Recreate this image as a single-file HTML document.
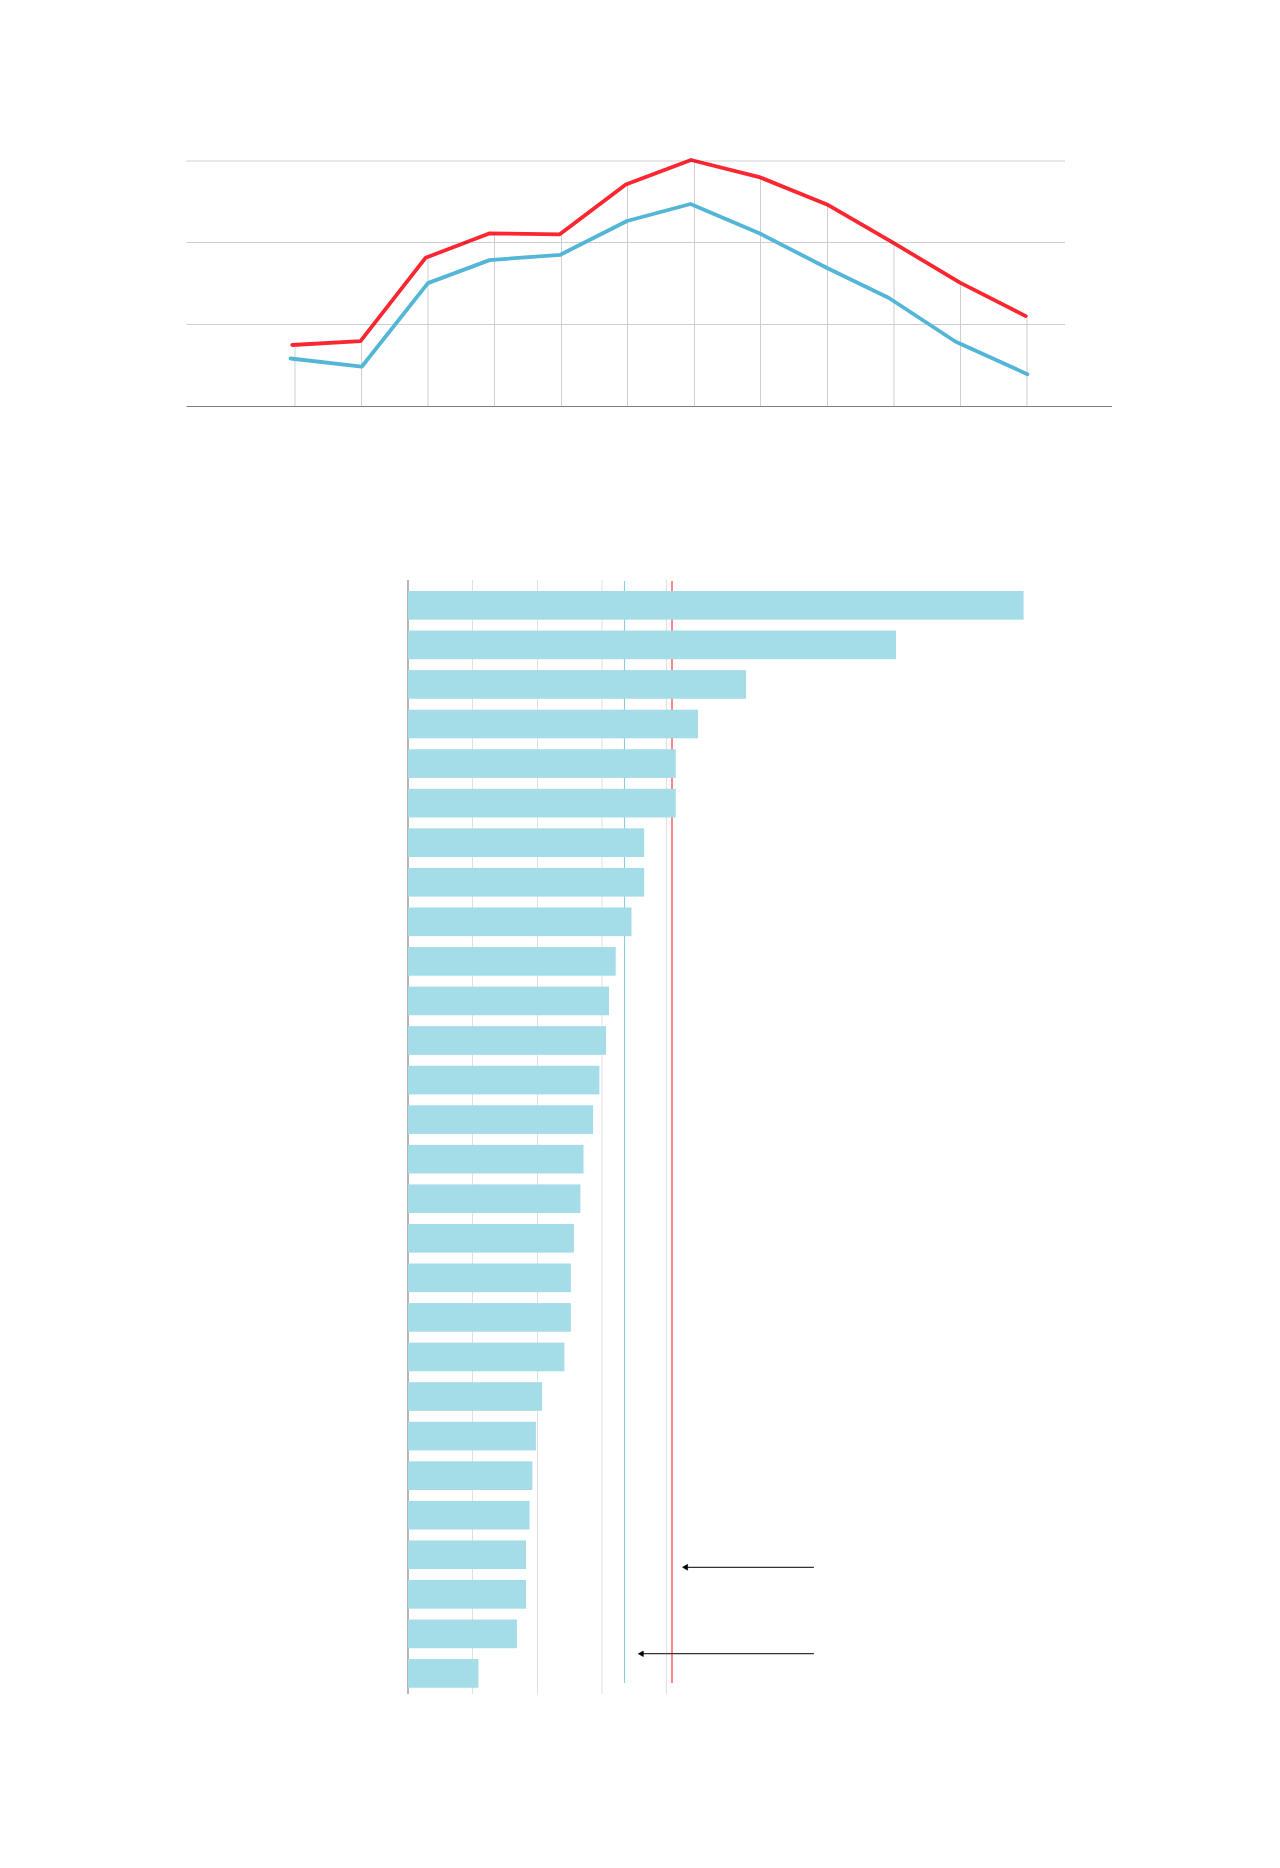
<!DOCTYPE html><html><head><meta charset="utf-8"><style>html,body{margin:0;padding:0;background:#fff;}body{width:1280px;height:1868px;overflow:hidden;font-family:"Liberation Sans",sans-serif;}svg{position:absolute;left:0;top:0;display:block;}</style></head><body>
<svg width="1280" height="1868" viewBox="0 0 1280 1868">
<polyline points="292.2,345 360.5,341.2 425.7,257.7 489.2,233.4 559.8,234.3 625.8,184.5 691,160 760.3,177.4 827,204.4 893,242.6 960,282.6 1025.8,316.1" fill="none" stroke="#fb2630" stroke-width="3.8" stroke-linejoin="round" stroke-linecap="round"/>
<g style="mix-blend-mode:darken">
<line x1="295.00" y1="347.0" x2="295.00" y2="406" stroke="#cfcfcf" stroke-width="1"/>
<line x1="361.50" y1="340.2" x2="361.50" y2="406" stroke="#cfcfcf" stroke-width="1"/>
<line x1="428.00" y1="259.0" x2="428.00" y2="406" stroke="#cfcfcf" stroke-width="1"/>
<line x1="494.50" y1="233.8" x2="494.50" y2="406" stroke="#cfcfcf" stroke-width="1"/>
<line x1="561.50" y1="233.3" x2="561.50" y2="406" stroke="#cfcfcf" stroke-width="1"/>
<line x1="627.50" y1="184.2" x2="627.50" y2="406" stroke="#cfcfcf" stroke-width="1"/>
<line x1="694.50" y1="161.2" x2="694.50" y2="406" stroke="#cfcfcf" stroke-width="1"/>
<line x1="760.50" y1="177.8" x2="760.50" y2="406" stroke="#cfcfcf" stroke-width="1"/>
<line x1="827.50" y1="205.0" x2="827.50" y2="406" stroke="#cfcfcf" stroke-width="1"/>
<line x1="894.00" y1="245.4" x2="894.00" y2="406" stroke="#cfcfcf" stroke-width="1"/>
<line x1="960.50" y1="283.2" x2="960.50" y2="406" stroke="#cfcfcf" stroke-width="1"/>
<line x1="1027.00" y1="318.3" x2="1027.00" y2="406" stroke="#cfcfcf" stroke-width="1"/>
<line x1="186.5" y1="161" x2="1065" y2="161" stroke="#cfcfcf" stroke-width="1"/>
<line x1="186.5" y1="242.5" x2="1065" y2="242.5" stroke="#cfcfcf" stroke-width="1"/>
<line x1="186.5" y1="324.5" x2="1065" y2="324.5" stroke="#cfcfcf" stroke-width="1"/>
</g>
<polyline points="290.6,358.5 361.7,366.7 427.9,283.1 489.5,260.1 560.3,254.8 627,221 690.5,204 760.5,233.75 826.6,267.8 889,298 955.3,341.5 1027.4,374.2" fill="none" stroke="#54b6d7" stroke-width="3.8" stroke-linejoin="round" stroke-linecap="round"/>
<line x1="186.5" y1="406.5" x2="1112" y2="406.5" stroke="#7f7f7f" stroke-width="1"/>
<line x1="472.5" y1="580" x2="472.5" y2="1694" stroke="#e0e0e0" stroke-width="1"/>
<line x1="537.5" y1="580" x2="537.5" y2="1694" stroke="#e0e0e0" stroke-width="1"/>
<line x1="602" y1="580" x2="602" y2="1694" stroke="#e0e0e0" stroke-width="1"/>
<line x1="666.5" y1="580" x2="666.5" y2="1694" stroke="#e0e0e0" stroke-width="1"/>
<line x1="408" y1="580" x2="408" y2="1694" stroke="#b7b7b7" stroke-width="2"/>
<line x1="624.5" y1="581" x2="624.5" y2="1683" stroke="#88cbe2" stroke-width="1.1"/>
<line x1="672" y1="581" x2="672" y2="1683" stroke="#ff878b" stroke-width="2"/>
<rect x="408" y="591.00" width="615.6" height="28.65" fill="#a4dce7"/>
<rect x="408" y="630.56" width="488.0" height="28.65" fill="#a4dce7"/>
<rect x="408" y="670.12" width="338.1" height="28.65" fill="#a4dce7"/>
<rect x="408" y="709.68" width="290.0" height="28.65" fill="#a4dce7"/>
<rect x="408" y="749.24" width="267.7" height="28.65" fill="#a4dce7"/>
<rect x="408" y="788.80" width="267.7" height="28.65" fill="#a4dce7"/>
<rect x="408" y="828.36" width="236.2" height="28.65" fill="#a4dce7"/>
<rect x="408" y="867.92" width="236.2" height="28.65" fill="#a4dce7"/>
<rect x="408" y="907.48" width="223.5" height="28.65" fill="#a4dce7"/>
<rect x="408" y="947.04" width="207.7" height="28.65" fill="#a4dce7"/>
<rect x="408" y="986.60" width="201.0" height="28.65" fill="#a4dce7"/>
<rect x="408" y="1026.16" width="198.0" height="28.65" fill="#a4dce7"/>
<rect x="408" y="1065.72" width="191.4" height="28.65" fill="#a4dce7"/>
<rect x="408" y="1105.28" width="185.1" height="28.65" fill="#a4dce7"/>
<rect x="408" y="1144.84" width="175.5" height="28.65" fill="#a4dce7"/>
<rect x="408" y="1184.40" width="172.4" height="28.65" fill="#a4dce7"/>
<rect x="408" y="1223.96" width="165.9" height="28.65" fill="#a4dce7"/>
<rect x="408" y="1263.52" width="162.9" height="28.65" fill="#a4dce7"/>
<rect x="408" y="1303.08" width="162.9" height="28.65" fill="#a4dce7"/>
<rect x="408" y="1342.64" width="156.4" height="28.65" fill="#a4dce7"/>
<rect x="408" y="1382.20" width="134.1" height="28.65" fill="#a4dce7"/>
<rect x="408" y="1421.76" width="127.9" height="28.65" fill="#a4dce7"/>
<rect x="408" y="1461.32" width="124.4" height="28.65" fill="#a4dce7"/>
<rect x="408" y="1500.88" width="121.6" height="28.65" fill="#a4dce7"/>
<rect x="408" y="1540.44" width="118.0" height="28.65" fill="#a4dce7"/>
<rect x="408" y="1580.00" width="118.0" height="28.65" fill="#a4dce7"/>
<rect x="408" y="1619.56" width="108.9" height="28.65" fill="#a4dce7"/>
<rect x="408" y="1659.12" width="70.4" height="28.65" fill="#a4dce7"/>
<line x1="687.1" y1="1567.4" x2="813.9" y2="1567.4" stroke="#333" stroke-width="1.25"/>
<polygon points="682.6,1567.25 687.6,1564.35 687.6,1570.15" fill="#000" stroke="#000" stroke-width="0.6" stroke-linejoin="round"/>
<line x1="642.8" y1="1653.55" x2="813.9" y2="1653.55" stroke="#333" stroke-width="1.25"/>
<polygon points="638.3,1653.8 643.3,1651.05 643.3,1656.55" fill="#000" stroke="#000" stroke-width="0.6" stroke-linejoin="round"/>
</svg></body></html>
